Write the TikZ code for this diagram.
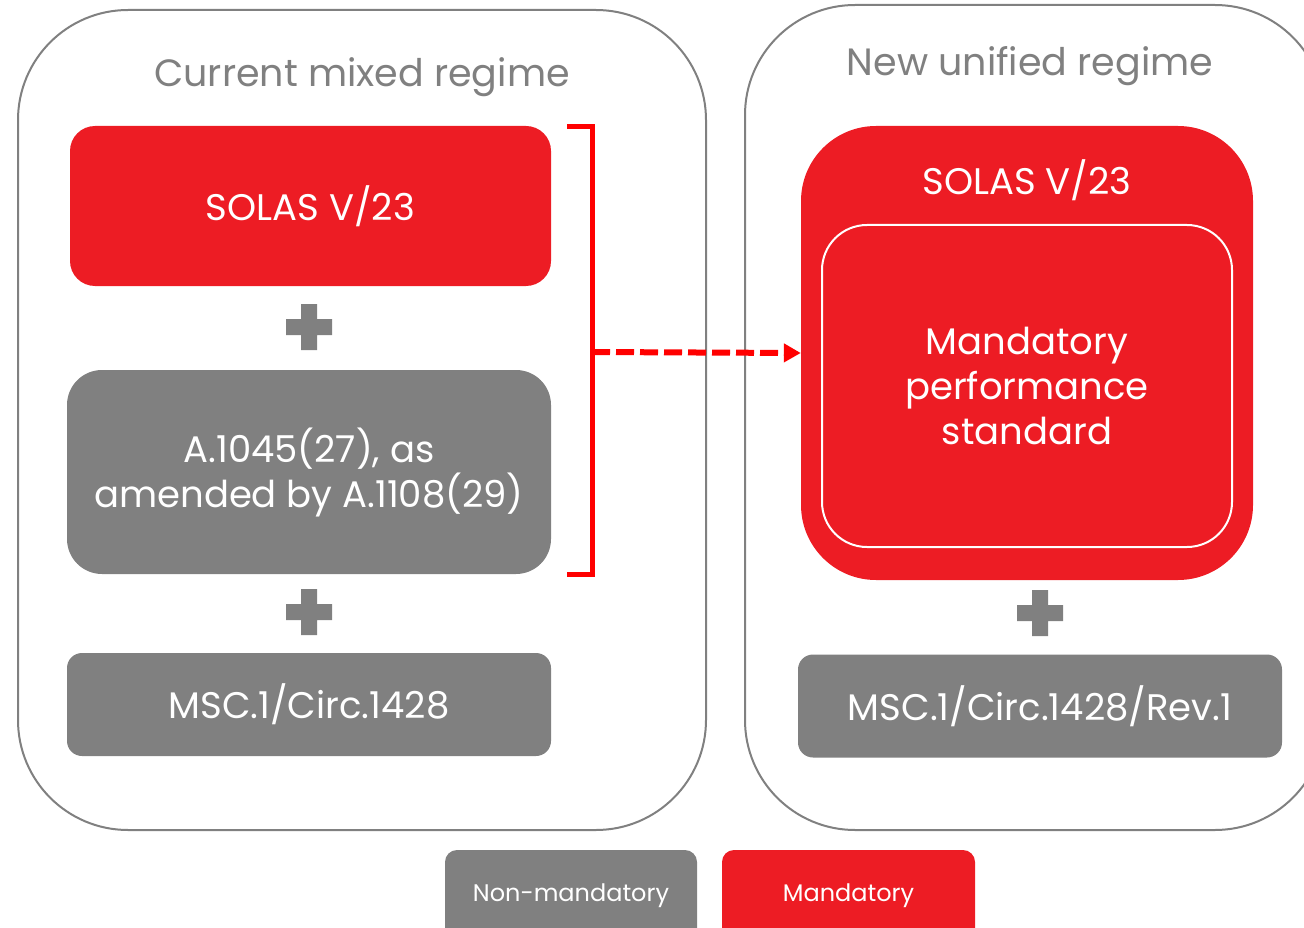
\documentclass[tikz,border=0pt]{standalone}
\usepackage{fontspec}
\setmainfont{Poppins}
\usetikzlibrary{positioning, arrows.meta}
\definecolor{imored}{HTML}{ED1C24}
\definecolor{imogray}{HTML}{808080}
\definecolor{bracered}{HTML}{FF0000}

\begin{document}
\begin{tikzpicture}[x=1pt, y=-1pt,
	panel/.style={draw=imogray, line width=2pt, rounded corners=110pt, inner sep=0pt},
	redbox/.style={fill=imored, text=white, inner sep=0pt, align=center},
	graybox/.style={fill=imogray, text=white, inner sep=0pt, align=center},
	title/.style={text=imogray, font=\fontsize{38}{45}\selectfont},
	big/.style={font=\fontsize{37}{45}\selectfont},
	small/.style={font=\fontsize{24}{28}\selectfont},
	plus/.style={fill=imogray}]
	\useasboundingbox (0,0) rectangle (1304,928);
	\clip (0,0) rectangle (1304,928);
	% the two regimes
	\node[panel, minimum width=688pt, minimum height=820pt] (cur_panel) at (362,420) {};
	\node[panel, minimum width=580pt, minimum height=825pt] (new_panel) at (1035,417.5) {};
	\node[title] (cur_title) at (362,77) {Current mixed regime};
	\node[title] (new_title) at (1030,66) {New unified regime};
	% current regime
	\node[redbox, big, rounded corners=25pt, minimum width=481pt, minimum height=160pt] (cur_solas) at (310.5,206) {SOLAS V/23};
	\node[graybox, big, rounded corners=35pt, minimum width=484pt, minimum height=204pt] (cur_a1045) at (309,472) {A.1045(27), as\\amended by A.1108(29)};
	\node[graybox, big, rounded corners=15pt, minimum width=484pt, minimum height=103pt] (cur_msc) at (309,704.5) {MSC.1/Circ.1428};
	\fill[plus] (286,319) rectangle (332,335) (301,304) rectangle (317,350);
	\fill[plus] (286,604) rectangle (332,620) (301,589) rectangle (317,635);
	% new regime
	\node[redbox, rounded corners=75pt, minimum width=452pt, minimum height=454pt] (new_solas) at (1027,353) {};
	\node[text=white, big] (new_solas_lbl) at (1027,180) {SOLAS V/23};
	\node[draw=white, line width=2pt, text=white, big, align=center, rounded corners=45pt, minimum width=410pt, minimum height=322pt] (new_perf) at (1027,386) {Mandatory\\performance\\standard};
	\node[graybox, big, rounded corners=15pt, minimum width=484pt, minimum height=103pt] (new_msc) at (1040,706) {MSC.1/Circ.1428/Rev.1};
	\fill[plus] (1017,605) rectangle (1063,621) (1032,590) rectangle (1048,636);
	% bracket and arrow
	\coordinate (br_top) at (567,127);
	\coordinate (br_bot) at (567,574);
	\coordinate (br_mid) at (592,352);
	\draw[bracered, line width=5pt] (br_top) -- ++(25,0) |- (br_bot);
	\draw[bracered, line width=6pt, dash pattern=on 18pt off 6pt, -{Triangle[length=17pt, width=18pt]}] (br_mid) -- (new_solas.west);
	% legend
	\node[graybox, small, rounded corners=12pt, minimum width=252pt, minimum height=92pt] (leg_non) at (571,896) {Non-mandatory};
	\node[redbox, small, rounded corners=12pt, minimum width=253pt, minimum height=92pt] (leg_man) at (848.5,896) {Mandatory};
\end{tikzpicture}
\end{document}
